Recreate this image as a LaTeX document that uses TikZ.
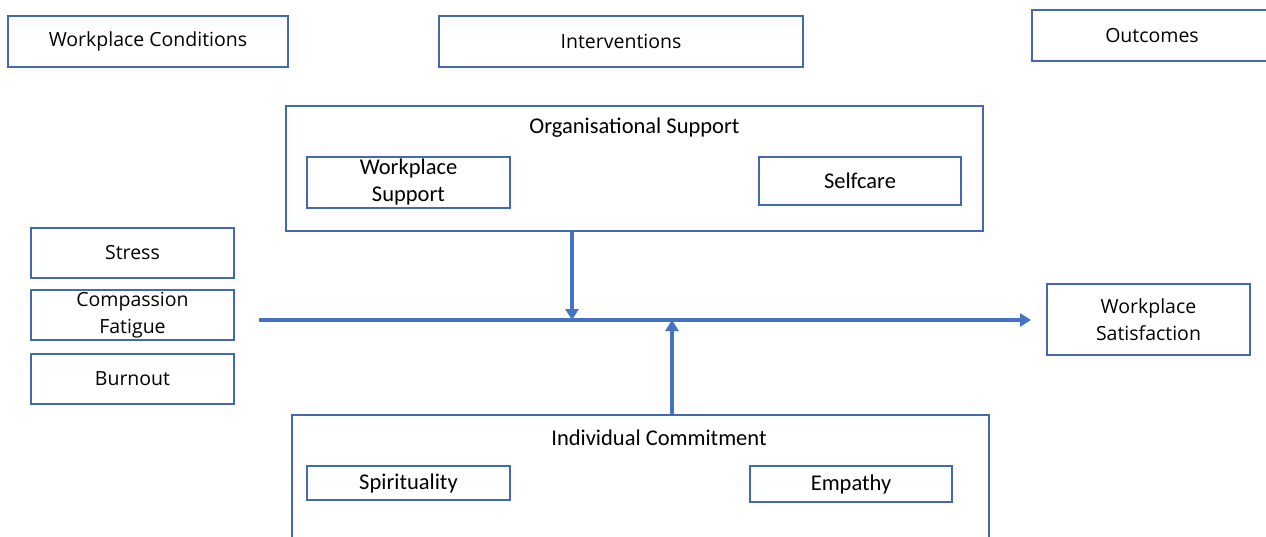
\documentclass[tikz,border=0pt]{standalone}
\usepackage{fontspec}
\setmainfont{Open Sans}
\newfontfamily\calib{Carlito}
\usetikzlibrary{arrows.meta}

\definecolor{edgeblue}{RGB}{68,105,175}
\definecolor{flowblue}{RGB}{68,114,196}

\tikzset{
  box/.style={draw=edgeblue, line width=1.1pt, inner sep=0pt, align=center,
    font=\fontsize{19.5}{27}\selectfont},
  subbox/.style={box, font=\calib\fontsize{22.5}{27}\selectfont},
  title/.style={inner sep=0pt, font=\calib\fontsize{22.5}{26}\selectfont},
  flow/.style={draw=flowblue, line width=3.5pt, -{Triangle[length=11pt,width=13pt]}}
}

\begin{document}
\begin{tikzpicture}[x=1pt,y=-1pt]
\clip (0,0) rectangle (1266,537);
\fill[white] (0,0) rectangle (1266,537);

% column headings
\node[box, minimum width=280, minimum height=51] (cond) at (148,41.5) {Workplace Conditions};
\node[box, minimum width=364, minimum height=51] (interv) at (621,41.5) {Interventions};
\node[box, minimum width=240, minimum height=51] (outc) at (1152,35.5) {Outcomes};

% organisational support
\node[box, minimum width=697, minimum height=125] (org) at (634.5,168.5) {};
\node[title] (orgtitle) at (634.5,128) {Organisational Support};
\node[subbox, minimum width=203, minimum height=51] (wsup) at (408.5,182.5) {Workplace\\Support};
\node[subbox, minimum width=202, minimum height=48] (self) at (860,181) {Selfcare};

% conditions
\node[box, minimum width=203, minimum height=50] (stress) at (132.5,253) {Stress};
\node[box, minimum width=203, minimum height=50] (compf) at (132.5,315) {Compassion\\Fatigue};
\node[box, minimum width=203, minimum height=50] (burn) at (132.5,379) {Burnout};

% outcome
\node[box, minimum width=203, minimum height=71] (sat) at (1148.5,319.5) {Workplace\\Satisfaction};

% individual commitment
\node[box, minimum width=697, minimum height=160] (ind) at (640.5,495) {};
\node[title] (indtitle) at (659,438) {Individual Commitment};
\node[subbox, minimum width=203, minimum height=34] (spir) at (408.5,483) {Spirituality};
\node[subbox, minimum width=202, minimum height=36] (emp) at (851,484) {Empathy};

% flows
\coordinate (lineL) at (259,320);
\coordinate (lineR) at (1031,320);
\coordinate (dn) at (572,320);
\coordinate (up) at (672,320);
\draw[flow] (lineL) -- (lineR);
\draw[flow] (org.south -| dn) -- (dn);
\draw[flow] (ind.north -| up) -- (up);
\end{tikzpicture}
\end{document}
